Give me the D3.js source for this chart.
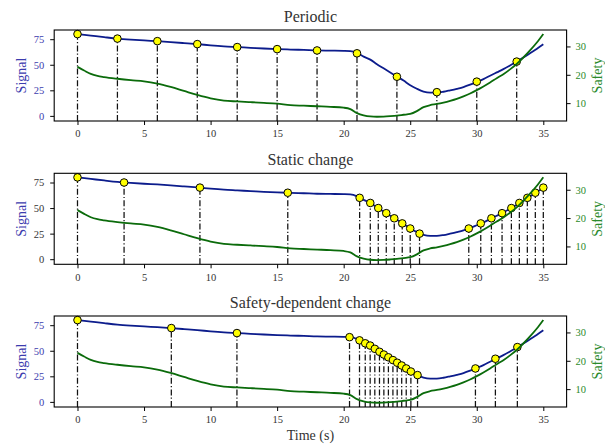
<!DOCTYPE html>
<html>
<head>
<meta charset="utf-8">
<script src="https://cdn.jsdelivr.net/npm/d3@7"></script>
<style>
  body { margin: 0; background: #fff; }
  text { font-family: 'Liberation Serif', 'Times New Roman', serif; }
</style>
</head>
<body>
<script>
'use strict';

// underlying signal curve
const signalTimes = [0, 1, 2, 3, 4, 5, 6, 7, 8, 9, 10, 11, 12, 13, 14, 15, 16, 17, 18, 19, 20, 20.5,
  21, 21.5, 22, 22.5, 23, 23.5, 24, 24.5, 25, 25.5, 26, 26.5, 27, 27.5, 28, 28.5, 29, 29.5,
  30, 30.5, 31, 31.5, 32, 32.5, 33, 33.5, 34, 34.5, 35];
const signalValues = [80, 78.5, 77, 75.6, 74.6, 73.8, 73.1, 72.2, 71.2, 70.2, 69.0, 68.0, 67.3, 66.6, 65.9, 65.3, 64.9, 64.5, 64.0, 63.8, 63.6, 63.3,
  61.5, 58, 55, 50.5, 46.5, 42.5, 38.5, 34.5, 30, 26.5, 23.8, 22.8, 22.8, 23.6, 25, 26.5, 28.2, 30.5,
  33.2, 36, 39.3, 42.5, 45.7, 49.3, 53.2, 57, 61.3, 65.5, 70];

// safety curve
const safetyTimes = [0, 0.5, 1, 1.5, 2, 3, 4, 5, 6, 7, 8, 9, 10, 11, 12, 13, 14, 15, 16, 17, 18, 19, 20, 20.5,
  21, 21.5, 22, 22.5, 23, 23.5, 24, 24.5, 25, 25.5, 26, 26.5, 27, 27.5, 28, 28.5, 29, 29.5,
  30, 30.5, 31, 31.5, 32, 32.5, 33, 33.5, 34, 34.5, 35];
const safetyValues = [22.8, 21.5, 20.3, 19.6, 19.2, 18.6, 18.1, 17.7, 16.9, 15.7, 14.3, 12.9, 11.7, 10.9, 10.6, 10.35, 10.1, 9.8, 9.3, 9.1, 8.9, 8.7, 8.4, 7.9,
  6.5, 5.7, 5.3, 5.2, 5.25, 5.4, 5.6, 5.9, 6.2, 7.2, 8.6, 9.3, 9.7, 10.2, 10.8, 11.5, 12.4, 13.4,
  14.6, 15.9, 17.3, 18.8, 20.2, 21.9, 23.8, 26.1, 28.6, 31.3, 34.4];

// sampled points of each strategy
const periodicTimes = [0, 3, 6, 9, 12, 15, 18, 21, 24, 27, 30, 33];
const periodicValues = [80, 75.6, 73.1, 70.2, 67.3, 65.3, 64.0, 61.2, 38.3, 23.2, 33.5, 53.1];

const staticTimes = [0, 3.5, 9.2, 15.8, 21.2, 22.0, 22.6, 23.2, 23.8, 24.4, 25.0, 25.7,
  29.4, 30.3, 31.1, 31.9, 32.6, 33.2, 33.8, 34.4, 35.0];
const staticValues = [80, 75, 70, 65, 60, 55, 50, 45, 40, 35, 30, 25,
  30, 35, 40, 45, 50, 55, 60, 65, 70];

const dependentTimes = [0, 7.05, 11.98, 20.44, 21.19, 21.62, 21.99, 22.34, 22.69, 23.02, 23.36,
  23.70, 24.02, 24.36, 24.70, 25.05, 25.55, 29.9, 31.4, 33.05];
const dependentValues = [80, 72.2, 67.3, 63.3, 60.2, 57.3, 55.1, 51.9, 49.0, 46.3, 43.6,
  40.9, 38.3, 35.6, 32.7, 29.7, 26.2, 32.7, 42.2, 53.6];

const panelTitles = ['Periodic', 'Static change', 'Safety-dependent change'];
const xTicks = [0, 5, 10, 15, 20, 25, 30, 35];
const signalTicks = [0, 25, 50, 75];
const safetyTicks = [10, 20, 30];

(function() {

  let svg = "";
  const panelTops = [30, 173.3, 316];
  const panelHeight = 91;
  const plotLeft = 54.2, plotRight = 566.6;
  const blueText = '#3c3cae', greenText = '#2b8a2b', grayText = '#333';

  window.onload = function() {
    svg = d3.select('body')
      .append('svg')
      .attr('width', 605)
      .attr('height', 445);

    let samples = [
      { t: periodicTimes, v: periodicValues, leftColor: blueText },
      { t: staticTimes, v: staticValues, leftColor: grayText },
      { t: dependentTimes, v: dependentValues, leftColor: blueText }
    ];

    samples.forEach((s, i) => makePanel(i, s));

    // shared x label
    svg.append('text')
      .attr('x', (plotLeft + plotRight) / 2)
      .attr('y', 440)
      .attr('text-anchor', 'middle')
      .style('font-size', '14px')
      .style('fill', grayText)
      .text('Time (s)');
  }

  // one subplot with twin y axes
  function makePanel(i, s) {
    let top = panelTops[i];
    let bottom = top + panelHeight;
    let g = svg.append('g');

    let x = d3.scaleLinear().domain([-1.75, 36.75]).range([plotLeft, plotRight]);
    let yL = d3.scaleLinear().domain([-5, 84]).range([bottom, top]);
    let yR = d3.scaleLinear().domain([3.7, 35.8]).range([bottom, top]);

    // signal line
    let sigLine = d3.line()
      .x((d) => x(d[0]))
      .y((d) => yL(d[1]))
      .curve(d3.curveMonotoneX);
    g.append('path')
      .datum(d3.zip(signalTimes, signalValues))
      .attr('fill', 'none')
      .attr('stroke', '#0c1c8c')
      .attr('stroke-width', 1.8)
      .attr('d', sigLine);

    // stems
    let pts = d3.zip(s.t, s.v);
    g.selectAll('.stem')
      .data(pts)
      .enter()
      .append('line')
        .attr('x1', (d) => x(d[0]))
        .attr('x2', (d) => x(d[0]))
        .attr('y1', yL(-5))
        .attr('y2', (d) => yL(d[1]))
        .attr('stroke', '#111')
        .attr('stroke-width', 1.25)
        .attr('stroke-dasharray', '6,2.2,1.2,2.2');

    // markers
    g.selectAll('.dot')
      .data(pts)
      .enter()
      .append('circle')
        .attr('cx', (d) => x(d[0]))
        .attr('cy', (d) => yL(d[1]))
        .attr('r', 3.8)
        .attr('fill', '#ffff00')
        .attr('stroke', '#000')
        .attr('stroke-width', 1);

    // safety line (twin axis, on top)
    let safLine = d3.line()
      .x((d) => x(d[0]))
      .y((d) => yR(d[1]))
      .curve(d3.curveMonotoneX);
    g.append('path')
      .datum(d3.zip(safetyTimes, safetyValues))
      .attr('fill', 'none')
      .attr('stroke', '#0b6b0b')
      .attr('stroke-width', 1.8)
      .attr('d', safLine);

    // frame
    g.append('rect')
      .attr('x', plotLeft)
      .attr('y', top)
      .attr('width', plotRight - plotLeft)
      .attr('height', panelHeight)
      .attr('fill', 'none')
      .attr('stroke', '#000')
      .attr('stroke-width', 1.1);

    // axes
    let xAxis = g.append('g')
      .attr('transform', 'translate(0,' + bottom + ')')
      .call(d3.axisBottom(x).tickValues(xTicks).tickSize(4).tickSizeOuter(0).tickPadding(5));
    styleAxis(xAxis, grayText);

    let lAxis = g.append('g')
      .attr('transform', 'translate(' + plotLeft + ',0)')
      .call(d3.axisLeft(yL).tickValues(signalTicks).tickSize(4).tickSizeOuter(0).tickPadding(6));
    styleAxis(lAxis, s.leftColor);

    let rAxis = g.append('g')
      .attr('transform', 'translate(' + plotRight + ',0)')
      .call(d3.axisRight(yR).tickValues(safetyTicks).tickSize(4).tickSizeOuter(0).tickPadding(5));
    styleAxis(rAxis, greenText);

    // labels
    let mid = (top + bottom) / 2;
    g.append('text')
      .attr('transform', 'translate(25.5,' + mid + ')rotate(-90)')
      .attr('text-anchor', 'middle')
      .style('font-size', '14px')
      .style('fill', blueText)
      .text('Signal');

    g.append('text')
      .attr('transform', 'translate(602,' + mid + ')rotate(-90)')
      .attr('text-anchor', 'middle')
      .style('font-size', '14px')
      .style('fill', greenText)
      .text('Safety');

    g.append('text')
      .attr('x', (plotLeft + plotRight) / 2)
      .attr('y', top - 8)
      .attr('text-anchor', 'middle')
      .style('font-size', '16px')
      .style('fill', '#333')
      .text(panelTitles[i]);
  }

  function styleAxis(a, color) {
    a.select('.domain').remove();
    a.selectAll('.tick line').attr('stroke', '#000').attr('stroke-width', 1);
    a.selectAll('.tick text')
      .style('font-size', '10.5px')
      .style('font-family', "'Liberation Serif', serif")
      .attr('fill', color);
  }

})();
</script>
</body>
</html>
